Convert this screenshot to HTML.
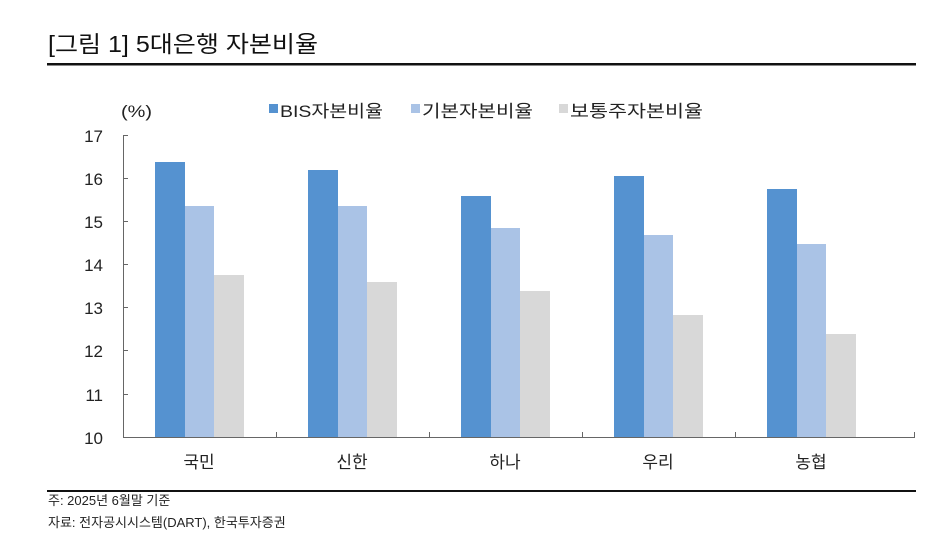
<!DOCTYPE html>
<html><head><meta charset="utf-8"><style>
html,body{margin:0;padding:0;background:#fff;}
svg{display:block;font-family:"Liberation Sans","Noto Sans CJK KR",sans-serif;}
</style></head><body>
<svg width="934" height="537" viewBox="0 0 934 537">
<text x="48" y="52" font-size="23" fill="#111" textLength="270" lengthAdjust="spacingAndGlyphs">[그림 1] 5대은행 자본비율</text>
<rect x="47" y="63" width="869" height="2.5" fill="#111"/>
<text x="121" y="117" font-size="17" fill="#222" textLength="31" lengthAdjust="spacingAndGlyphs">(%)</text>
<rect x="269" y="104" width="9" height="9" fill="#5592d0"/>
<text x="280" y="117" font-size="17" fill="#222" textLength="103" lengthAdjust="spacingAndGlyphs">BIS자본비율</text>
<rect x="411" y="104" width="9" height="9" fill="#aac3e6"/>
<text x="422" y="117" font-size="17" fill="#222" textLength="111" lengthAdjust="spacingAndGlyphs">기본자본비율</text>
<rect x="559" y="104" width="9" height="9" fill="#d8d8d8"/>
<text x="570" y="117" font-size="17" fill="#222" textLength="133" lengthAdjust="spacingAndGlyphs">보통주자본비율</text>
<g font-size="17" fill="#222" text-anchor="end">
<text x="103" y="142">17</text><text x="103" y="185">16</text><text x="103" y="228">15</text><text x="103" y="271">14</text>
<text x="103" y="314">13</text><text x="103" y="357">12</text><text x="103" y="401">11</text><text x="103" y="444">10</text>
</g>
<g stroke="#666" stroke-width="1">
<line x1="123.5" y1="135" x2="123.5" y2="437"/>
<line x1="123" y1="437.5" x2="915" y2="437.5"/>
<line x1="123" y1="135.5" x2="128" y2="135.5"/><line x1="123" y1="178.5" x2="128" y2="178.5"/>
<line x1="123" y1="221.5" x2="128" y2="221.5"/><line x1="123" y1="264.5" x2="128" y2="264.5"/>
<line x1="123" y1="307.5" x2="128" y2="307.5"/><line x1="123" y1="350.5" x2="128" y2="350.5"/>
<line x1="123" y1="394.5" x2="128" y2="394.5"/>
<line x1="276.5" y1="432" x2="276.5" y2="437"/><line x1="429.5" y1="432" x2="429.5" y2="437"/>
<line x1="582.5" y1="432" x2="582.5" y2="437"/><line x1="735.5" y1="432" x2="735.5" y2="437"/>
<line x1="914.5" y1="432" x2="914.5" y2="437"/>
</g>
<g>
<rect x="155" y="162" width="30" height="275" fill="#5592d0"/><rect x="185" y="206" width="29" height="231" fill="#aac3e6"/><rect x="214" y="275" width="30" height="162" fill="#d8d8d8"/>
<rect x="308" y="170" width="30" height="267" fill="#5592d0"/><rect x="338" y="206" width="29" height="231" fill="#aac3e6"/><rect x="367" y="282" width="30" height="155" fill="#d8d8d8"/>
<rect x="461" y="196" width="30" height="241" fill="#5592d0"/><rect x="491" y="228" width="29" height="209" fill="#aac3e6"/><rect x="520" y="291" width="30" height="146" fill="#d8d8d8"/>
<rect x="614" y="176" width="30" height="261" fill="#5592d0"/><rect x="644" y="235" width="29" height="202" fill="#aac3e6"/><rect x="673" y="315" width="30" height="122" fill="#d8d8d8"/>
<rect x="767" y="189" width="30" height="248" fill="#5592d0"/><rect x="797" y="244" width="29" height="193" fill="#aac3e6"/><rect x="826" y="334" width="30" height="103" fill="#d8d8d8"/>
</g>
<g font-size="17" fill="#222" text-anchor="middle">
<text x="199" y="468">국민</text><text x="352" y="468">신한</text><text x="505" y="468">하나</text><text x="658" y="468">우리</text><text x="811" y="468">농협</text>
</g>
<rect x="47" y="490" width="869" height="2" fill="#111"/>
<text x="48" y="505" font-size="13" fill="#222">주: 2025년 6월말 기준</text>
<text x="48" y="527" font-size="13" fill="#222">자료: 전자공시시스템(DART), 한국투자증권</text>
</svg>
</body></html>
